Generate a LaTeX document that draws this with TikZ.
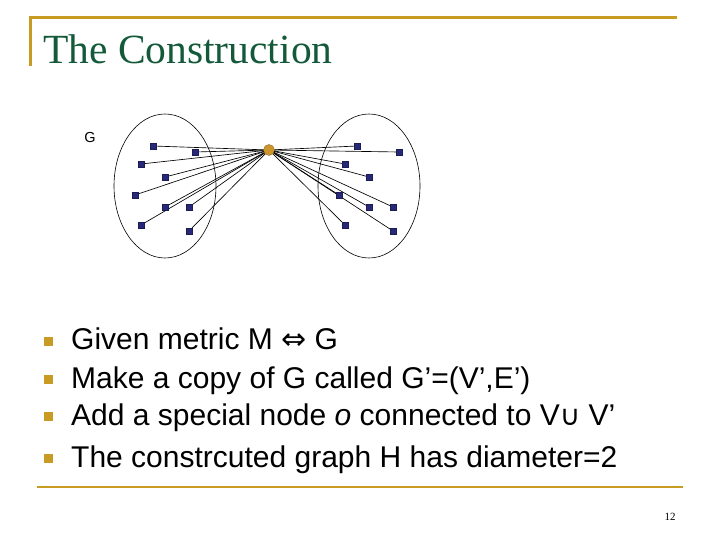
\documentclass[tikz,border=0pt]{standalone}
\usepackage{fontspec}
\setmainfont{Liberation Serif}
\setsansfont{Liberation Sans}
\newfontfamily\symfont{DejaVu Sans}
\usetikzlibrary{backgrounds}
\definecolor{gold}{RGB}{200,155,35}
\definecolor{titlegreen}{RGB}{20,90,58}
\definecolor{navy}{RGB}{40,40,120}
\definecolor{onode}{RGB}{205,150,45}
\tikzset{
  dot/.style={rectangle,fill=navy,draw=navy!70!black,line width=0.3pt,minimum size=6.5pt,inner sep=0pt},
  bul/.style={rectangle,fill=gold,minimum size=9pt,inner sep=0pt},
  btext/.style={anchor=base west,inner sep=0pt,font=\sffamily\fontsize{30}{30}\selectfont},
  edge/.style={line width=0.65pt,black},
  rule/.style={gold,line width=3pt}
}
\begin{document}
\begin{tikzpicture}[x=1pt,y=-1pt]
\useasboundingbox (0,0) rectangle (720,540);
% frame rules
\coordinate (tl) at (30,18);
\coordinate (tr) at (677,18);
\coordinate (tb) at (30,66);
\draw[rule] (tl) -- (tr);
\draw[rule] (tl) ++(0,-1.5) -- (tb);
\coordinate (bl) at (37,487);
\coordinate (br) at (683,487);
\draw[rule,line width=2.5pt] (bl) -- (br);
% title
\node[anchor=base west,inner sep=0pt,text=titlegreen,font=\fontsize{41.5}{41}\selectfont] (title) at (43,64) {The Construction};
% graph
\node[font=\sffamily\fontsize{14.5}{15}\selectfont,inner sep=0pt] (glab) at (90,138) {G};
\draw[line width=0.6pt] (165,186) ellipse [x radius=51, y radius=72];
\draw[line width=0.6pt] (369,186) ellipse [x radius=51, y radius=72];
\node[circle,fill=onode,draw=onode!70!black,line width=0.4pt,minimum size=11pt,inner sep=0pt] (o) at (269,150) {};
\foreach \n/\x/\y in {a1/153/146, a2/195/152, a3/141/164, a4/165/177, a5/135/195, a6/165/207, a7/189/207, a8/141/225, a9/189/231,
                       b1/357/146, b2/399/152, b3/345/164, b4/369/177, b5/339/195, b6/369/207, b7/393/207, b8/345/225, b9/393/231}
  \node[dot] (\n) at (\x,\y) {};
\begin{scope}[on background layer]
\foreach \n in {a1,a2,a3,a4,a5,a6,a7,a8,a9,b1,b2,b3,b4,b5,b6,b7,b8,b9}
  \draw[edge] (\n.center) -- (o.center);
\end{scope}
% bullets
\node[bul] (p1) at (48,341) {};
\node[bul] (p2) at (48,379) {};
\node[bul] (p3) at (48,416) {};
\node[bul] (p4) at (48,458) {};
\node[btext] (t1) at (71,349) {Given metric M {\symfont\fontsize{30}{30}\selectfont ⇔} G};
\node[btext] (t2) at (71,388) {Make a copy of G called G’=(V’,E’)};
\node[btext] (t3) at (71,425) {Add a special node \textit{o} connected to V{\symfont\fontsize{28}{28}\selectfont ∪} V’};
\node[btext] (t4) at (71,467) {The constrcuted graph H has diameter=2};
% page number
\node[font=\fontsize{11}{11}\selectfont,inner sep=0pt] (pg) at (670,517) {12};
\end{tikzpicture}
\end{document}
